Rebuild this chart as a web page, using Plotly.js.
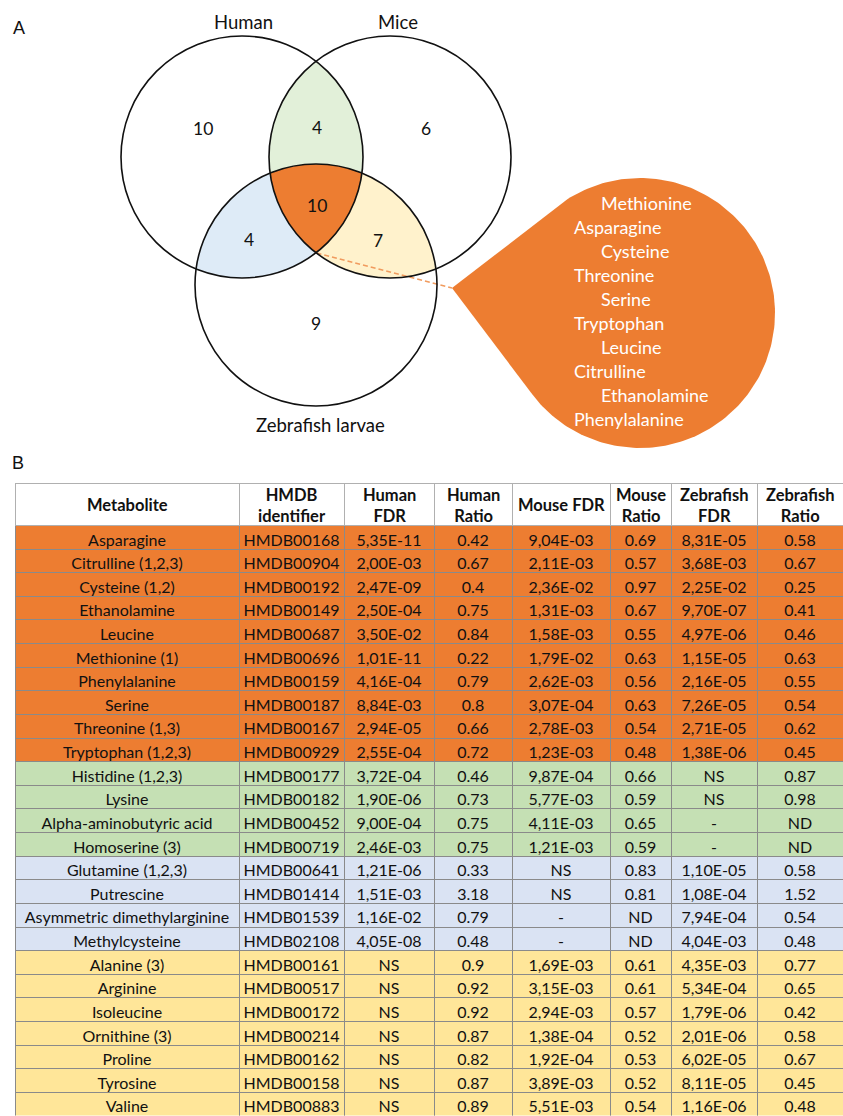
<!DOCTYPE html>
<html><head><meta charset="utf-8">
<script src="https://cdn.plot.ly/plotly-3.0.1.min.js"></script>
<style>html,body{margin:0;padding:0;background:#fff}</style>
</head><body><div id="chart" style="width:843px;height:1116px"></div>
<script>
// ---------- DATA ----------
const setNames = ['Human', 'Mice', 'Zebrafish larvae'];
const regionNames = ['Human only', 'Human∩Mice', 'Mice only', 'All three', 'Human∩Zebrafish', 'Mice∩Zebrafish', 'Zebrafish only'];
const regionCounts = [10, 4, 6, 10, 4, 7, 9];
const sharedMetabolites = ['Methionine', 'Asparagine', 'Cysteine', 'Threonine', 'Serine', 'Tryptophan', 'Leucine', 'Citrulline', 'Ethanolamine', 'Phenylalanine'];

const tableHeader = ['Metabolite', 'HMDB<br>identifier', 'Human<br>FDR', 'Human<br>Ratio', 'Mouse FDR', 'Mouse<br>Ratio', 'Zebrafish<br>FDR', 'Zebrafish<br>Ratio'];
const metabolite = ['Asparagine', 'Citrulline (1,2,3)', 'Cysteine (1,2)', 'Ethanolamine', 'Leucine', 'Methionine (1)', 'Phenylalanine', 'Serine', 'Threonine (1,3)', 'Tryptophan (1,2,3)',
  'Histidine (1,2,3)', 'Lysine', 'Alpha-aminobutyric acid', 'Homoserine (3)',
  'Glutamine (1,2,3)', 'Putrescine', 'Asymmetric dimethylarginine', 'Methylcysteine',
  'Alanine (3)', 'Arginine', 'Isoleucine', 'Ornithine (3)', 'Proline', 'Tyrosine', 'Valine'];
const hmdb = ['HMDB00168', 'HMDB00904', 'HMDB00192', 'HMDB00149', 'HMDB00687', 'HMDB00696', 'HMDB00159', 'HMDB00187', 'HMDB00167', 'HMDB00929',
  'HMDB00177', 'HMDB00182', 'HMDB00452', 'HMDB00719',
  'HMDB00641', 'HMDB01414', 'HMDB01539', 'HMDB02108',
  'HMDB00161', 'HMDB00517', 'HMDB00172', 'HMDB00214', 'HMDB00162', 'HMDB00158', 'HMDB00883'];
const humanFDR = ['5,35E-11', '2,00E-03', '2,47E-09', '2,50E-04', '3,50E-02', '1,01E-11', '4,16E-04', '8,84E-03', '2,94E-05', '2,55E-04',
  '3,72E-04', '1,90E-06', '9,00E-04', '2,46E-03',
  '1,21E-06', '1,51E-03', '1,16E-02', '4,05E-08',
  'NS', 'NS', 'NS', 'NS', 'NS', 'NS', 'NS'];
const humanRatio = ['0.42', '0.67', '0.4', '0.75', '0.84', '0.22', '0.79', '0.8', '0.66', '0.72',
  '0.46', '0.73', '0.75', '0.75',
  '0.33', '3.18', '0.79', '0.48',
  '0.9', '0.92', '0.92', '0.87', '0.82', '0.87', '0.89'];
const mouseFDR = ['9,04E-03', '2,11E-03', '2,36E-02', '1,31E-03', '1,58E-03', '1,79E-02', '2,62E-03', '3,07E-04', '2,78E-03', '1,23E-03',
  '9,87E-04', '5,77E-03', '4,11E-03', '1,21E-03',
  'NS', 'NS', '-', '-',
  '1,69E-03', '3,15E-03', '2,94E-03', '1,38E-04', '1,92E-04', '3,89E-03', '5,51E-03'];
const mouseRatio = ['0.69', '0.57', '0.97', '0.67', '0.55', '0.63', '0.56', '0.63', '0.54', '0.48',
  '0.66', '0.59', '0.65', '0.59',
  '0.83', '0.81', 'ND', 'ND',
  '0.61', '0.61', '0.57', '0.52', '0.53', '0.52', '0.54'];
const zebraFDR = ['8,31E-05', '3,68E-03', '2,25E-02', '9,70E-07', '4,97E-06', '1,15E-05', '2,16E-05', '7,26E-05', '2,71E-05', '1,38E-06',
  'NS', 'NS', '-', '-',
  '1,10E-05', '1,08E-04', '7,94E-04', '4,04E-03',
  '4,35E-03', '5,34E-04', '1,79E-06', '2,01E-06', '6,02E-05', '8,11E-05', '1,16E-06'];
const zebraRatio = ['0.58', '0.67', '0.25', '0.41', '0.46', '0.63', '0.55', '0.54', '0.62', '0.45',
  '0.87', '0.98', 'ND', 'ND',
  '0.58', '1.52', '0.54', '0.48',
  '0.77', '0.65', '0.42', '0.58', '0.67', '0.45', '0.48'];
const rowGroup = ['all','all','all','all','all','all','all','all','all','all',
  'hm','hm','hm','hm',
  'hz','hz','hz','hz',
  'mz','mz','mz','mz','mz','mz','mz'];

// ---------- STYLE ----------
const groupColor = {all: '#ED7D31', hm: '#C5E0B4', hz: '#DAE3F3', mz: '#FFE699'};
const lensColor = {hm: '#E2F0D9', hz: '#DEEBF7', mz: '#FFF2CC', all: '#ED7D31'};
const W = 843, H = 1116;
const FONT = 'Lato, "Open Sans", sans-serif';
const colWidths = [224, 105, 90, 78, 98, 61, 86, 86];
const tableLeft = 15, tableTop = 483.5, headerH = 42;

// circle layout (pixel space)
const C = {
  h: {x: 242, y: 157, r: 121},
  m: {x: 390, y: 157, r: 121},
  z: {x: 316, y: 285, r: 121}
};

function inside(p, c) { return Math.hypot(p[0] - c.x, p[1] - c.y) <= c.r + 1e-6; }
function regionPoly(list) {
  const pts = [];
  const N = 1440;
  list.forEach((c, i) => {
    for (let k = 0; k < N; k++) {
      const a = 2 * Math.PI * k / N;
      const p = [c.x + c.r * Math.cos(a), c.y + c.r * Math.sin(a)];
      if (list.every((d, j) => j === i || inside(p, d))) pts.push(p);
    }
  });
  const cx = pts.reduce((s, p) => s + p[0], 0) / pts.length;
  const cy = pts.reduce((s, p) => s + p[1], 0) / pts.length;
  pts.sort((a, b) => Math.atan2(a[1] - cy, a[0] - cx) - Math.atan2(b[1] - cy, b[0] - cx));
  pts.push(pts[0]);
  return {x: pts.map(p => p[0]), y: pts.map(p => p[1])};
}
function fillTrace(poly, color) {
  return {type: 'scatter', mode: 'lines', x: poly.x, y: poly.y, fill: 'toself', fillcolor: color,
    line: {width: 0, color: color}, hoverinfo: 'skip', showlegend: false, xaxis: 'x', yaxis: 'y'};
}

const traces = [];
traces.push(fillTrace(regionPoly([C.h, C.m]), lensColor.hm));
traces.push(fillTrace(regionPoly([C.h, C.z]), lensColor.hz));
traces.push(fillTrace(regionPoly([C.m, C.z]), lensColor.mz));
traces.push(fillTrace(regionPoly([C.h, C.m, C.z]), lensColor.all));

// callout bubble
const tip = [452, 288];
const bub = {x: 640, y: 313, r: 135};
(function () {
  const d = Math.hypot(tip[0] - bub.x, tip[1] - bub.y);
  const th = Math.atan2(tip[1] - bub.y, tip[0] - bub.x);
  const off = Math.acos(bub.r / d);
  const a0 = th + off, a1 = th - off + 2 * Math.PI;
  const xs = [tip[0]], ys = [tip[1]];
  for (let k = 0; k <= 200; k++) {
    const a = a0 + (a1 - a0) * k / 200;
    xs.push(bub.x + bub.r * Math.cos(a));
    ys.push(bub.y + bub.r * Math.sin(a));
  }
  xs.push(tip[0]); ys.push(tip[1]);
  traces.push(fillTrace({x: xs, y: ys}, '#ED7D31'));
})();
// dashed connector
traces.push({type: 'scatter', mode: 'lines', x: [316.5, tip[0]], y: [253, tip[1]],
  line: {color: '#F19B5E', width: 1.6, dash: '5px,3px'}, hoverinfo: 'skip', showlegend: false});

// table (header cells left blank; header labels are placed as annotations so the row keeps its height)
const cols = [metabolite, hmdb, humanFDR, humanRatio, mouseFDR, mouseRatio, zebraFDR, zebraRatio];
const nb = s => String(s).replace(/ /g, '\u00a0');
const rowFills = rowGroup.map(g => groupColor[g]);
const rowH = (H - tableTop - headerH) / metabolite.length;
traces.push({
  type: 'table',
  domain: {x: [tableLeft / W, 1], y: [0, 1 - tableTop / H]},
  columnwidth: colWidths,
  header: {
    values: tableHeader.map(() => ''),
    height: headerH,
    fill: {color: '#ffffff'},
    line: {color: '#b0b0b0', width: 1},
    font: {family: FONT, size: 12, color: '#111'}
  },
  cells: {
    values: cols.map(c => c.map(nb)),
    align: 'center', height: rowH,
    fill: {color: cols.map(() => rowFills)},
    line: {color: '#8a8a8a', width: 1},
    font: {family: FONT, size: 16, color: '#111'}
  }
});

// annotations
const ann = [];
function txt(x, y, t, size, color, anchor, fam) {
  ann.push({x: x, y: y, xref: 'x', yref: 'y', text: t, showarrow: false,
    xanchor: anchor || 'center', yanchor: 'middle', borderpad: 0,
    font: {family: fam || FONT, size: size, color: color || '#111'}});
}
txt(19, 28, 'A', 18, '#111', 'center', '"Liberation Sans", Arial, sans-serif');
txt(18, 463, 'B', 18, '#111', 'center', '"Liberation Sans", Arial, sans-serif');
txt(243, 22, setNames[0], 18.5);
txt(398, 22, setNames[1], 18.5);
txt(320, 425, setNames[2], 18.5);
const regionPos = [[203, 128], [317, 127], [426, 128], [317, 205], [249, 239], [378, 240], [316, 323]];
regionCounts.forEach((v, i) => txt(regionPos[i][0], regionPos[i][1], String(v), 17.5));
sharedMetabolites.forEach((m, i) => txt(i % 2 === 0 ? 600 : 573, 203 + 24 * i, m, 18, '#ffffff', 'left'));

// header labels
let xl = tableLeft;
colWidths.forEach((w, i) => {
  txt(xl + w / 2, tableTop + headerH / 2 + 0.5, '<b>' + tableHeader[i] + '</b>', 16.5);
  xl += w;
});

const shapes = [C.h, C.m, C.z].map(c => ({type: 'circle', xref: 'x', yref: 'y',
  x0: c.x - c.r, x1: c.x + c.r, y0: c.y - c.r, y1: c.y + c.r,
  line: {color: '#111', width: 1.6}, layer: 'above'}));

const layout = {
  width: W, height: H, margin: {l: 0, r: 0, t: 0, b: 0},
  paper_bgcolor: '#fff', plot_bgcolor: 'rgba(0,0,0,0)',
  xaxis: {range: [0, W], domain: [0, 1], visible: false, fixedrange: true},
  yaxis: {range: [H, 0], domain: [0, 1], visible: false, fixedrange: true},
  showlegend: false, shapes: shapes, annotations: ann
};
Plotly.newPlot('chart', traces, layout, {displayModeBar: false, staticPlot: true});
</script></body></html>
